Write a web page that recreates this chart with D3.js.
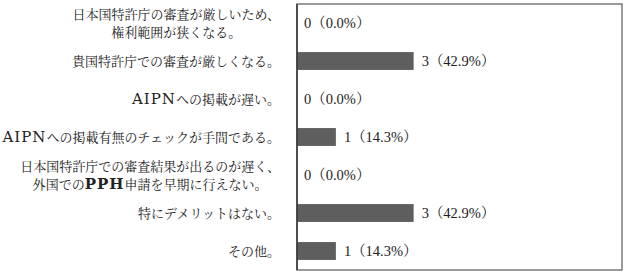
<!DOCTYPE html>
<html>
<head>
<meta charset="utf-8">
<script src="https://cdn.jsdelivr.net/npm/d3@7"></script>
<style>
  body { margin: 0; background: #fff; }
  text { font-family: "Liberation Serif", "Noto Serif CJK JP", "Noto Sans CJK JP", serif; }
  tspan.latin { font-family: "DejaVu Serif", "Liberation Serif", serif; }
</style>
</head>
<body>
<svg width="624" height="272"></svg>
<script>
// Data
const categories = [
    ["日本国特許庁の審査が厳しいため、", "権利範囲が狭くなる。"],
    ["貴国特許庁での審査が厳しくなる。"],
    ["AIPNへの掲載が遅い。"],
    ["AIPNへの掲載有無のチェックが手間である。"],
    ["日本国特許庁での審査結果が出るのが遅く、", "外国でのPPH申請を早期に行えない。"],
    ["特にデメリットはない。"],
    ["その他。"]
]
const counts = [0, 3, 0, 1, 0, 3, 1]
const percents = ["0.0", "42.9", "0.0", "14.3", "0.0", "42.9", "14.3"]
const xMax = 8.36

const svg = d3.select("svg")
const plot = { left: 297, top: 4, right: 622, bottom: 270 }

const x = d3.scaleLinear()
    .domain([0, xMax])
    .range([plot.left, plot.right])

const y = d3.scaleBand()
    .domain(d3.range(categories.length))
    .range([plot.top, plot.bottom])
    .paddingInner(0.53)
    .paddingOuter(0.265)

// frame
svg.append("rect")
    .attr("x", plot.left)
    .attr("y", plot.top)
    .attr("width", plot.right - plot.left)
    .attr("height", plot.bottom - plot.top)
    .attr("fill", "none")
    .attr("stroke", "#7a7a7a")
    .attr("stroke-width", 1.5)

// bars
svg.append("g")
    .selectAll("rect")
    .data(counts)
    .join("rect")
    .attr("x", x(0))
    .attr("y", (d, i) => y(i))
    .attr("width", d => x(d) - x(0))
    .attr("height", y.bandwidth())
    .attr("fill", "#5e5e5e")

// left axis line
svg.append("line")
    .attr("x1", x(0)).attr("x2", x(0))
    .attr("y1", plot.top).attr("y2", plot.bottom)
    .attr("stroke", "#333")
    .attr("stroke-width", 1.5)

// value labels
svg.append("g")
    .selectAll("text")
    .data(counts)
    .join("text")
    .attr("x", d => x(d) + (d > 0 ? 8 : 7))
    .attr("y", (d, i) => y(i) + y.bandwidth() / 2)
    .attr("dy", "0.35em")
    .attr("font-size", 14.5)
    .attr("fill", "#222")
    .text((d, i) => d + "（" + percents[i] + "%）")

// split a line into latin / japanese runs
function runs(s) {
    return s.split(/([A-Za-z]+)/).filter(t => t.length)
}

// category labels
const labelX = 280
const groups = svg.append("g")
    .selectAll("g")
    .data(categories)
    .join("g")
    .attr("transform", (d, i) => `translate(0,${y(i) + y.bandwidth() / 2})`)

groups.each(function (lines) {
    const g = d3.select(this)
    const texts = g.selectAll("text")
        .data(lines)
        .join("text")
        .attr("font-size", 13)
        .attr("fill", "#222")
        .attr("y", (d, j) => (j - (lines.length - 1) / 2) * 18)
        .attr("dy", "0.35em")
    texts.selectAll("tspan")
        .data(d => runs(d))
        .join("tspan")
        .attr("class", t => /^[A-Za-z]+$/.test(t) ? "latin" : null)
        .attr("font-size", t => /^[A-Za-z]+$/.test(t) ? 15 : null)
        .attr("letter-spacing", t => /^[A-Za-z]+$/.test(t) ? 1 : null)
        .attr("font-weight", t => t === "PPH" ? "bold" : null)
        .text(t => t)
    // right-align first line, center others under it
    const w0 = texts.node().getComputedTextLength()
    const cx = labelX - w0 / 2
    texts.attr("text-anchor", "middle").attr("x", cx)
})
</script>
</body>
</html>
